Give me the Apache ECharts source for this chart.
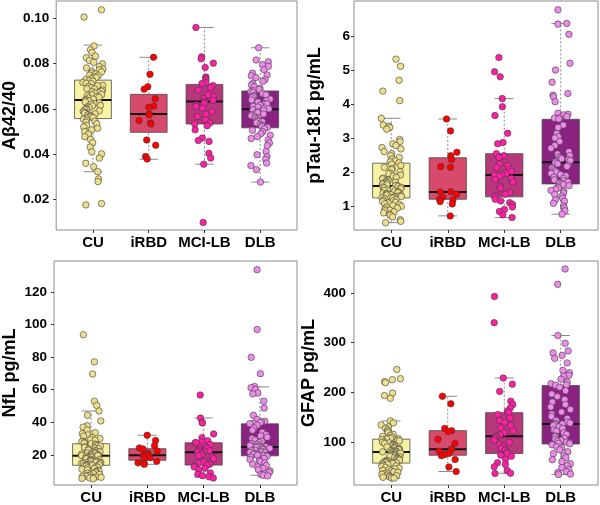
<!DOCTYPE html>
<html>
<head>
<meta charset="utf-8">
<script src="https://cdn.jsdelivr.net/npm/echarts@6/dist/echarts.min.js"></script>
<style>
  html, body { margin: 0; padding: 0; background: #fff; }
  #main { width: 600px; height: 505px; }
</style>
</head>
<body>
<div id="main"></div>
<script>
// groups on the x axis
var groups = ['CU', 'iRBD', 'MCI-LB', 'DLB'];
var boxColors = ['#F8F3A2', '#D84A6B', '#B6377A', '#8A2282'];
var pointColors = ['#EEDF8A', '#FF0000', '#FF1FA5', '#EE8BEA'];

// panel titles (y axis names)
var titles = ['Aβ42/40', 'pTau-181 pg/mL', 'NfL pg/mL', 'GFAP pg/mL'];
// tick labels per panel
var ticksAb = [0.02, 0.04, 0.06, 0.08, 0.10];
var ticksPtau = [1, 2, 3, 4, 5, 6];
var ticksNfl = [20, 40, 60, 80, 100, 120];
var ticksGfap = [100, 200, 300, 400];

// box stats: [lower whisker, Q1, median, Q3, upper whisker]
var boxAb = [[0.0322, 0.0557, 0.0639, 0.0727, 0.0882], [0.0377, 0.0496, 0.0577, 0.0664, 0.0828], [0.0355, 0.0533, 0.0632, 0.0708, 0.0960], [0.0276, 0.0516, 0.0598, 0.0679, 0.0870]];
var boxPtau = [[0.53, 1.26, 1.61, 2.28, 3.60], [0.73, 1.22, 1.43, 2.44, 3.58], [0.68, 1.29, 1.93, 2.56, 4.18], [0.78, 1.67, 2.31, 3.57, 6.39]];
var boxNfl = [[5.4, 13.6, 19.4, 26.8, 46.9], [14.2, 16.7, 19.8, 23.8, 32.0], [6.5, 13.7, 21.6, 27.4, 42.6], [7.5, 19.4, 24.8, 39.0, 61.7]];
var boxGfap = [[26.8, 57.1, 79.6, 105.3, 142], [40.1, 72.9, 84.8, 122.4, 191.6], [36.7, 76.3, 111.3, 158.7, 228.5], [34.2, 95.5, 135.6, 213.3, 314]];

// individual values, Aβ42/40
var abCU = [0.1038, 0.1006, 0.0878, 0.0861, 0.0849, 0.0833, 0.0826, 0.0814, 0.0806, 0.0799, 0.0787, 0.0781, 0.0776, 0.0772, 0.0765, 0.0763, 0.0757, 0.0754, 0.0749, 0.0746, 0.0741, 0.0739, 0.0733, 0.0729,
  0.0725, 0.0722, 0.0716, 0.0713, 0.0711, 0.0704, 0.0702, 0.0699, 0.0694, 0.0689, 0.0688, 0.0683, 0.0678, 0.0676, 0.0671, 0.0669, 0.0663, 0.0662, 0.0657, 0.0654, 0.0651, 0.0648, 0.0643, 0.0641,
  0.0637, 0.0635, 0.0631, 0.0626, 0.0623, 0.0621, 0.0615, 0.0613, 0.0609, 0.0605, 0.0602, 0.0598, 0.0596, 0.0591, 0.0588, 0.0583, 0.0581, 0.0578, 0.0573, 0.0571, 0.0567, 0.0564, 0.0561, 0.0558,
  0.0554, 0.0549, 0.0545, 0.0541, 0.0534, 0.0527, 0.0520, 0.0514, 0.0507, 0.0499, 0.0488, 0.0477, 0.0465, 0.0450, 0.0431, 0.0410, 0.0401, 0.0382, 0.0359, 0.0344, 0.0322, 0.0290, 0.0278, 0.0181, 0.0175];
var abRBD = [0.0828, 0.0753, 0.0698, 0.0687, 0.0645, 0.0612, 0.0607, 0.0578, 0.0573, 0.0548, 0.0537, 0.0533, 0.0462, 0.0439, 0.0389, 0.0378];
var abMCI = [0.0960, 0.0830, 0.0821, 0.0802, 0.0783, 0.0741, 0.0736, 0.0727, 0.0716, 0.0712, 0.0703, 0.0694, 0.0683, 0.0669, 0.0662, 0.0653, 0.0646, 0.0638, 0.0635, 0.0629,
  0.0624, 0.0617, 0.0611, 0.0603, 0.0588, 0.0577, 0.0566, 0.0552, 0.0537, 0.0533, 0.0525, 0.0507, 0.0471, 0.0460, 0.0456, 0.0403, 0.0382, 0.0355, 0.0097];
var abDLB = [0.0870, 0.0816, 0.0808, 0.0795, 0.0788, 0.0773, 0.0758, 0.0750, 0.0746, 0.0738, 0.0729, 0.0722, 0.0712, 0.0705, 0.0697, 0.0691, 0.0686, 0.0681,
  0.0676, 0.0673, 0.0667, 0.0662, 0.0658, 0.0656, 0.0650, 0.0643, 0.0639, 0.0636, 0.0630, 0.0624, 0.0622, 0.0616, 0.0611, 0.0608, 0.0603, 0.0600,
  0.0596, 0.0593, 0.0587, 0.0583, 0.0577, 0.0574, 0.0569, 0.0564, 0.0561, 0.0557, 0.0551, 0.0546, 0.0543, 0.0538, 0.0531, 0.0527, 0.0522, 0.0518,
  0.0512, 0.0505, 0.0498, 0.0490, 0.0483, 0.0477, 0.0469, 0.0462, 0.0449, 0.0437, 0.0411, 0.0397, 0.0389, 0.0377, 0.0360, 0.0349, 0.0331, 0.0276];

// pTau-181
var ptCU = [5.34, 5.13, 4.72, 4.40, 4.12, 3.60, 3.40, 3.37, 3.33, 3.28, 2.98, 2.92, 2.85, 2.80, 2.74, 2.70, 2.62, 2.56, 2.50, 2.45, 2.40, 2.35, 2.32, 2.29,
  2.25, 2.21, 2.16, 2.12, 2.09, 2.03, 1.99, 1.97, 1.93, 1.90, 1.86, 1.84, 1.82, 1.79, 1.78, 1.75, 1.72, 1.71, 1.69, 1.67, 1.66, 1.64, 1.63, 1.62,
  1.60, 1.58, 1.57, 1.55, 1.53, 1.51, 1.49, 1.48, 1.46, 1.44, 1.43, 1.41, 1.40, 1.38, 1.37, 1.35, 1.34, 1.33, 1.31, 1.30, 1.29, 1.28, 1.27, 1.26,
  1.25, 1.23, 1.21, 1.19, 1.17, 1.15, 1.13, 1.11, 1.08, 1.06, 1.04, 1.01, 0.99, 0.96, 0.93, 0.90, 0.88, 0.85, 0.82, 0.78, 0.75, 0.70, 0.62, 0.57, 0.53];
var ptRBD = [3.58, 3.23, 2.60, 2.50, 2.39, 2.18, 2.16, 1.44, 1.43, 1.37, 1.28, 1.22, 1.20, 1.15, 1.08, 0.73];
var ptMCI = [5.39, 4.97, 4.82, 4.18, 3.94, 3.68, 3.16, 2.89, 2.85, 2.56, 2.50, 2.45, 2.26, 2.21, 2.15, 2.10, 2.04, 1.98, 1.95, 1.93,
  1.90, 1.83, 1.80, 1.72, 1.61, 1.55, 1.41, 1.37, 1.33, 1.29, 1.22, 1.17, 1.12, 1.07, 0.99, 0.92, 0.86, 0.76, 0.68];
var ptDLB = [6.79, 6.39, 6.37, 6.07, 5.22, 5.02, 4.66, 4.33, 4.28, 4.23, 4.09, 3.75, 3.72, 3.70, 3.65, 3.62, 3.60, 3.58,
  3.40, 3.33, 3.15, 3.06, 3.02, 2.92, 2.80, 2.72, 2.62, 2.55, 2.50, 2.47, 2.44, 2.41, 2.38, 2.36, 2.34, 2.32,
  2.29, 2.26, 2.22, 2.18, 2.14, 2.10, 2.06, 2.02, 1.98, 1.95, 1.91, 1.87, 1.83, 1.79, 1.76, 1.73, 1.70, 1.68,
  1.65, 1.62, 1.58, 1.55, 1.51, 1.48, 1.45, 1.40, 1.36, 1.31, 1.25, 1.20, 1.16, 1.10, 1.02, 0.96, 0.88, 0.78];

// NfL
var nfCU = [93.7, 77.0, 69.6, 52.9, 50.3, 46.9, 44.3, 40.8, 37.8, 37.0, 35.2, 33.6, 33.0, 32.2, 31.4, 30.6, 30.0, 29.4, 28.9, 28.4, 28.0, 27.6, 27.2, 26.9,
  26.5, 26.1, 25.7, 25.3, 24.9, 24.5, 24.1, 23.7, 23.3, 22.9, 22.6, 22.3, 22.0, 21.7, 21.4, 21.1, 20.8, 20.5, 20.3, 20.1, 19.9, 19.7, 19.6, 19.5,
  19.2, 18.9, 18.6, 18.2, 17.9, 17.6, 17.3, 17.0, 16.7, 16.4, 16.1, 15.8, 15.5, 15.3, 15.1, 14.9, 14.7, 14.5, 14.3, 14.1, 13.9, 13.8, 13.7, 13.6,
  13.4, 13.1, 12.8, 12.4, 12.0, 11.6, 11.2, 10.8, 10.4, 10.0, 9.6, 9.2, 8.8, 8.4, 8.0, 7.6, 7.3, 7.0, 6.7, 6.4, 6.2, 6.0, 5.8, 5.6, 5.4];
var nfRBD = [32.0, 28.8, 25.6, 24.2, 23.6, 22.4, 21.0, 20.1, 19.6, 19.1, 18.3, 17.4, 16.0, 15.1, 14.6, 14.2];
var nfMCI = [56.7, 42.6, 39.9, 39.6, 32.8, 30.5, 28.6, 27.9, 27.5, 27.4, 26.3, 25.4, 24.8, 24.1, 23.5, 23.0, 22.6, 22.2, 21.9, 21.6,
  21.0, 20.2, 19.5, 18.8, 17.6, 16.2, 15.4, 14.9, 14.3, 13.7, 13.2, 12.6, 11.8, 10.9, 8.9, 8.1, 7.2, 6.5, 5.8];
var nfDLB = [133.6, 96.9, 79.8, 69.8, 61.9, 61.2, 60.0, 57.9, 57.4, 52.9, 48.7, 44.3, 41.7, 40.6, 40.2, 39.8, 39.4, 39.1,
  38.2, 36.5, 35.1, 33.8, 32.5, 31.6, 30.8, 30.0, 29.1, 28.3, 27.6, 27.0, 26.5, 26.0, 25.6, 25.3, 25.0, 24.9,
  24.6, 24.3, 24.0, 23.6, 23.2, 22.8, 22.5, 22.1, 21.8, 21.5, 21.2, 20.9, 20.6, 20.3, 20.0, 19.8, 19.6, 19.5,
  19.2, 18.6, 17.9, 17.2, 16.5, 15.8, 15.0, 14.3, 13.5, 12.6, 11.8, 10.9, 10.1, 9.2, 8.4, 7.9, 7.5, 7.1];

// GFAP
var gfCU = [245.7, 227, 225, 221, 219, 198, 193, 187.6, 142, 138, 134, 130, 127, 124, 121, 118, 115, 113, 111, 109.5, 108, 107, 106.2, 105.5,
  104.6, 103.2, 101.9, 100.4, 99.1, 97.8, 96.5, 95.0, 93.6, 92.3, 91.0, 89.8, 88.5, 87.3, 86.2, 85.1, 84.0, 83.0, 82.1, 81.3, 80.6, 80.2, 79.9, 79.7,
  79.0, 77.8, 77.1, 75.9, 74.6, 74.0, 72.8, 71.5, 70.9, 69.6, 68.8, 67.4, 66.9, 65.5, 64.7, 63.2, 62.8, 61.4, 60.6, 59.8, 58.9, 58.1, 57.5, 57.2,
  56.5, 55.4, 54.2, 53.0, 51.6, 50.1, 48.7, 47.0, 45.5, 44.0, 42.4, 41.0, 39.6, 38.4, 37.0, 35.6, 34.3, 33.0, 31.8, 30.5, 29.4, 28.5, 27.6, 27.0, 26.8];
var gfRBD = [191.6, 176.5, 127, 122.4, 120.8, 105.3, 96.6, 85.5, 84.2, 81, 76.5, 74.6, 72, 64.4, 49.2, 40.1];
var gfMCI = [392.6, 339.9, 228.5, 216, 201.5, 181.7, 175, 168, 162, 158.7, 155, 148, 143, 139, 133, 128, 122, 118, 114, 111.3,
  109, 106, 103, 99, 95, 91, 87, 83, 79, 76.3, 73, 71, 65, 58, 54.5, 49.7, 42, 36.7, 36];
var gfDLB = [448, 417, 314, 298.3, 283, 279, 274, 268, 258.8, 243.8, 239, 233.9, 232, 226, 220, 217, 214.5, 213.8,
  210, 203, 196, 191, 185, 180, 175, 170, 165, 160, 156, 151, 147, 143, 140, 138, 137, 136,
  135, 133, 130, 127, 124, 121, 118, 115, 112, 110, 107, 105, 103, 101, 99.5, 98, 97, 96,
  94, 90, 87.5, 84, 80, 76, 72, 68, 64, 60, 56, 52, 48, 44, 40, 38, 35, 34.2];

var panels = [
  { title: titles[0], ticks: ticksAb, box: boxAb, pts: [abCU, abRBD, abMCI, abDLB], min: 0.0064, max: 0.1077, dec: 2, nameGap: 34, lblMargin: 7 },
  { title: titles[1], ticks: ticksPtau, box: boxPtau, pts: [ptCU, ptRBD, ptMCI, ptDLB], min: 0.315, max: 7.05, dec: 0, nameGap: 30, lblMargin: 4 },
  { title: titles[2], ticks: ticksNfl, box: boxNfl, pts: [nfCU, nfRBD, nfMCI, nfDLB], min: 1.5, max: 138.9, dec: 0, nameGap: 35, lblMargin: 7 },
  { title: titles[3], ticks: ticksGfap, box: boxGfap, pts: [gfCU, gfRBD, gfMCI, gfDLB], min: 13, max: 464, dec: 0, nameGap: 36, lblMargin: 8 }
];

var gridPos = [
  { left: 53, top: 1, width: 244, height: 229 },
  { left: 354, top: 1, width: 244, height: 229 },
  { left: 53, top: 261, width: 244, height: 228 },
  { left: 354, top: 261, width: 244, height: 228 }
];

var BOX_HALF = 0.33, CAP_HALF = 0.165, JITTER = 0.18;
var FONT = '"Liberation Sans", Arial, sans-serif';

// repeatable jitter (position only)
function jit(i, g, p) {
  var s = Math.sin((i + 1) * 12.9898 + g * 78.233 + p * 37.719) * 43758.5453;
  s = s - Math.floor(s);
  return (s - 0.5) * 2 * JITTER;
}

function renderBox(params, api) {
  var x = api.value(0);
  var lo = api.coord([x, api.value(1)]);
  var q1 = api.coord([x, api.value(2)]);
  var md = api.coord([x, api.value(3)]);
  var q3 = api.coord([x, api.value(4)]);
  var hi = api.coord([x, api.value(5)]);
  var hw = api.size([BOX_HALF, 0])[0];
  var cw = api.size([CAP_HALF, 0])[0];
  var col = boxColors[api.value(6)];
  var wStyle = { stroke: '#8a8a8a', lineWidth: 1, lineDash: [2, 2] };
  var cStyle = { stroke: '#8a8a8a', lineWidth: 1 };
  return {
    type: 'group',
    children: [
      { type: 'line', shape: { x1: lo[0], y1: lo[1], x2: q1[0], y2: q1[1] }, style: wStyle },
      { type: 'line', shape: { x1: q3[0], y1: q3[1], x2: hi[0], y2: hi[1] }, style: wStyle },
      { type: 'line', shape: { x1: lo[0] - cw, y1: lo[1], x2: lo[0] + cw, y2: lo[1] }, style: cStyle },
      { type: 'line', shape: { x1: hi[0] - cw, y1: hi[1], x2: hi[0] + cw, y2: hi[1] }, style: cStyle },
      { type: 'rect', shape: { x: q3[0] - hw, y: q3[1], width: hw * 2, height: q1[1] - q3[1] }, style: { fill: col, stroke: '#4a4a4a', lineWidth: 0.8 } },
      { type: 'line', shape: { x1: md[0] - hw, y1: md[1], x2: md[0] + hw, y2: md[1] }, style: { stroke: '#111', lineWidth: 2 } }
    ]
  };
}

var grid = [], xAxis = [], yAxis = [], series = [];
panels.forEach(function (p, k) {
  grid.push(Object.assign({ show: true, borderColor: '#8c8c8c', borderWidth: 1, backgroundColor: '#fff' }, gridPos[k]));
  xAxis.push({
    type: 'value', gridIndex: k, min: 0.34, max: 4.66,
    splitLine: { show: false }, axisLine: { show: false },
    axisTick: { show: true, length: 3, lineStyle: { color: '#333' }, customValues: [1, 2, 3, 4] },
    axisLabel: {
      customValues: [1, 2, 3, 4], margin: 5,
      formatter: function (v) { return groups[Math.round(v) - 1]; },
      color: '#000', fontWeight: 'bold', fontSize: 15, fontFamily: FONT
    }
  });
  yAxis.push({
    type: 'value', gridIndex: k, min: p.min, max: p.max,
    name: p.title, nameLocation: 'middle', nameGap: p.nameGap, nameRotate: 90,
    nameTextStyle: { color: '#000', fontWeight: 'bold', fontSize: 18, fontFamily: FONT },
    splitLine: { show: false }, axisLine: { show: false },
    axisTick: { show: true, length: 3, lineStyle: { color: '#333' }, customValues: p.ticks },
    axisLabel: {
      customValues: p.ticks, margin: p.lblMargin,
      formatter: function (v) { return v.toFixed(p.dec); },
      color: '#000', fontWeight: 'bold', fontSize: 13.5, fontFamily: FONT
    }
  });
  series.push({
    type: 'custom', xAxisIndex: k, yAxisIndex: k, z: 2,
    renderItem: renderBox,
    encode: { x: 0, y: [1, 2, 3, 4, 5] },
    data: p.box.map(function (b, g) { return [g + 1, b[0], b[1], b[2], b[3], b[4], g]; }),
    silent: true
  });
  p.pts.forEach(function (vals, g) {
    series.push({
      type: 'scatter', xAxisIndex: k, yAxisIndex: k, z: 3,
      symbolSize: 6.5,
      itemStyle: { color: pointColors[g], borderColor: '#3a3a3a', borderWidth: 0.6, opacity: 1 },
      data: vals.map(function (v, i) { return [g + 1 + jit(i, g, k), v]; }),
      silent: true
    });
  });
});

var chart = echarts.init(document.getElementById('main'), null, { renderer: 'canvas' });
chart.setOption({
  animation: false,
  backgroundColor: '#fff',
  grid: grid,
  xAxis: xAxis,
  yAxis: yAxis,
  series: series
});
</script>
</body>
</html>
